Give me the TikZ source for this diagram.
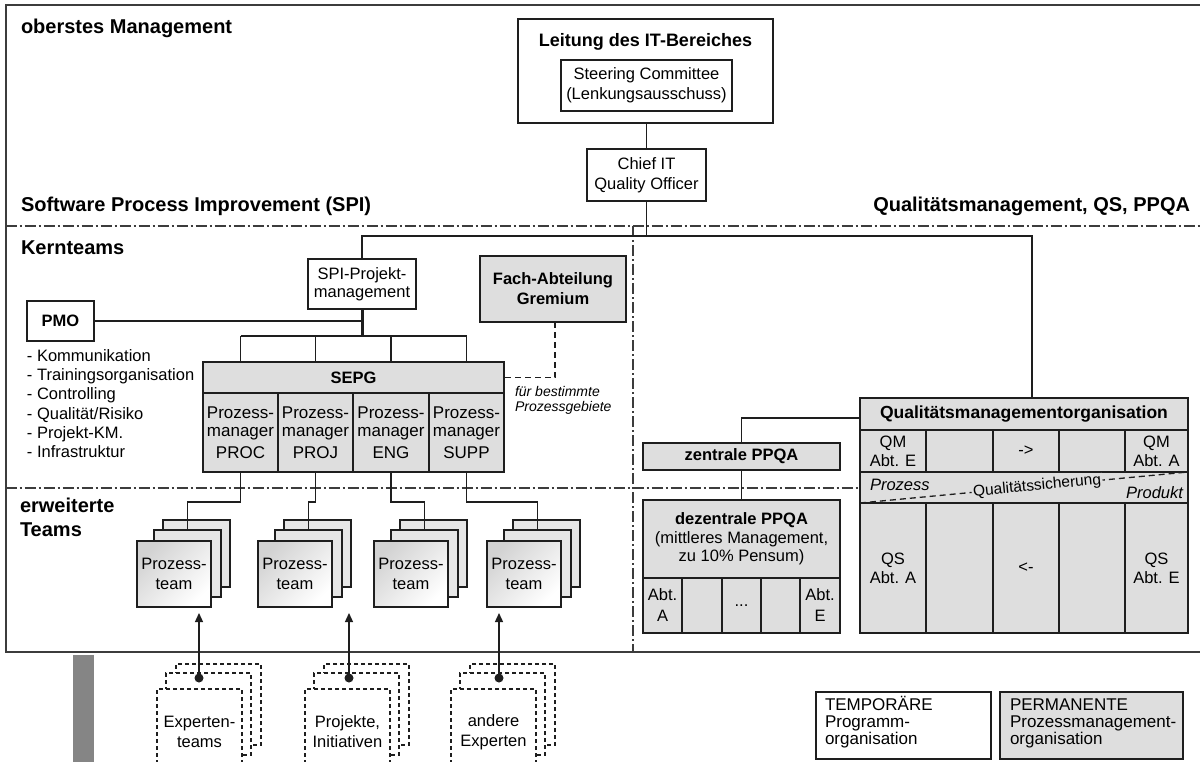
\documentclass[tikz,border=0pt]{standalone}
\usepackage{fontspec}
\setmainfont{Liberation Sans}
\usetikzlibrary{arrows.meta}
\definecolor{ink}{HTML}{1E1E1E}
\definecolor{boxgray}{HTML}{DEDEDE}
\definecolor{framecol}{HTML}{3C3C3C}
\definecolor{bargray}{HTML}{858585}
\definecolor{stackgray}{HTML}{E6E6E6}
\definecolor{shadegray}{HTML}{D2D2D2}
\begin{document}
\begin{tikzpicture}[x=1pt,y=-1pt,
  every node/.style={font=\fontsize{16.5}{18}\selectfont, inner sep=0pt, outer sep=0pt},
  box/.style={draw=ink, line width=1.3pt, fill=white, anchor=north west, align=center},
  graybox/.style={box, fill=boxgray},
  boldtxt/.style={font=\bfseries\fontsize{16.5}{19}\selectfont},
  conn/.style={draw=ink, line width=1.3pt},
  thickconn/.style={draw=ink, line width=3pt},
  dashconn/.style={draw=ink, line width=1.3pt, dash pattern=on 6pt off 4pt},
  zonesep/.style={draw=framecol, line width=1.3pt, dash pattern=on 11pt off 3pt on 2pt off 3pt},
  outerframe/.style={draw=framecol, line width=2pt},
  section/.style={font=\bfseries\fontsize{20}{24}\selectfont, anchor=base west},
  backbox/.style={box, fill=stackgray},
  frontbox/.style={box, top color=shadegray, bottom color=white, shading angle=45, font=\fontsize{16.5}{20}\selectfont},
  dashbox/.style={box, line width=1.2pt, dash pattern=on 4pt off 3pt},
  arrowconn/.style={conn, -{Triangle[length=9pt,width=8pt]}},
  italicnote/.style={font=\itshape\fontsize{14}{15}\selectfont, anchor=west, align=left},
  celltxt/.style={font=\fontsize{16.5}{19}\selectfont},
  mgrtxt/.style={font=\fontsize{17}{18}\selectfont},
]
\useasboundingbox (0,0) rectangle (1200,762);
\clip (0,0) rectangle (1200,762);

% zones
\draw[outerframe] (1210,5.5) -- (5.5,5.5) -- (5.5,652) -- (1210,652);
\fill[bargray] (73,655) rectangle (94,770);
\draw[zonesep] (5.5,226) -- (1210,226);
\draw[zonesep] (5.5,488) -- (860,488);
\draw[zonesep] (633,226) -- (633,652);

% zone labels
\node[section] (lblTop) at (21,34) {oberstes Management};
\node[section] (lblSpi) at (21,212) {Software Process Improvement (SPI)};
\node[section, anchor=base east] (lblQm) at (1190,212) {Qualitätsmanagement, QS, PPQA};
\node[section] (lblCore) at (21,255) {Kernteams};
\node[section, anchor=north west, align=left] (lblExt) at (20,498.5) {erweiterte\\Teams};

% top management
\node[box, minimum width=255pt, minimum height=104pt] (leitung) at (518,19) {};
\node[font=\bfseries\fontsize{18}{20}\selectfont] (leitungT) at (645.5,41.5) {Leitung des IT-Bereiches};
\node[box, minimum width=171pt, minimum height=51pt, font=\fontsize{16.5}{20}\selectfont] (steer) at (561,60) {Steering Committee\\(Lenkungsausschuss)};
\node[box, minimum width=119pt, minimum height=52pt, font=\fontsize{16.5}{20}\selectfont] (chief) at (587,149) {Chief IT\\Quality Officer};
\coordinate (hub) at (646.5,236);

% SPI core teams
\node[box, minimum width=108pt, minimum height=50pt] (spi) at (308,259) {SPI-Projekt-\\management};
\node[box, minimum width=67pt, minimum height=40pt, boldtxt] (pmo) at (27,301) {PMO};
\node[anchor=north west, align=left, font=\fontsize{16.5}{19.2}\selectfont] (pmolist) at (27,349.5) {- Kommunikation\\- Trainingsorganisation\\- Controlling\\- Qualität/Risiko\\- Projekt-KM.\\- Infrastruktur};
\node[graybox, minimum width=146pt, minimum height=66pt, font=\bfseries\fontsize{16.5}{20}\selectfont] (fach) at (480,256) {Fach-Abteilung\\Gremium};
\node[graybox, minimum width=301pt, minimum height=31pt, boldtxt] (sepg) at (203,362) {SEPG};
\node[graybox, mgrtxt, minimum width=75pt, minimum height=79pt] (c1) at (203,393) {Prozess-\\manager\\[4pt]PROC};
\node[graybox, mgrtxt, minimum width=75pt, minimum height=79pt] (c2) at (278,393) {Prozess-\\manager\\[4pt]PROJ};
\node[graybox, mgrtxt, minimum width=76pt, minimum height=79pt] (c3) at (353,393) {Prozess-\\manager\\[4pt]ENG};
\node[graybox, mgrtxt, minimum width=75pt, minimum height=79pt] (c4) at (429,393) {Prozess-\\manager\\[4pt]SUPP};
\node[italicnote] (note) at (515,400) {für bestimmte\\Prozessgebiete};

% process teams
\foreach \xf/\n in {137/1,258/2,374/3,487/4}{
  \node[backbox, minimum width=67pt, minimum height=67pt] (tb\n) at (\xf+26,520) {};
  \node[backbox, minimum width=67pt, minimum height=67pt] (tm\n) at (\xf+17,530) {};
  \node[frontbox, minimum width=74pt, minimum height=66pt] (tf\n) at (\xf,541) {Prozess-\\team};
}

% contributors below the frame
\foreach \xf/\n in {157/A,305/B,451/C}{
  \node[dashbox, minimum width=85pt, minimum height=81pt] (eb\n) at (\xf+19,664) {};
  \node[dashbox, minimum width=85pt, minimum height=82pt] (em\n) at (\xf+9,673) {};
  \node[dashbox, minimum width=85pt, minimum height=95pt] (ef\n) at (\xf,689) {};
}
\node[font=\fontsize{16.5}{20}\selectfont, align=center] (etA) at (199.5,732) {Experten-\\teams};
\node[font=\fontsize{16.5}{20}\selectfont, align=center] (etB) at (347.5,732) {Projekte,\\Initiativen};
\node[font=\fontsize{16.5}{20}\selectfont, align=center] (etC) at (493.5,732) {andere\\Experten};
\coordinate (dA) at (199,678);
\coordinate (dB) at (349,678);
\coordinate (dC) at (499,678);
\coordinate (tA) at (199,613);
\coordinate (tB) at (349,613);
\coordinate (tC) at (499,613);

% quality management
\node[graybox, minimum width=328pt, minimum height=32pt, font=\bfseries\fontsize{17.5}{19}\selectfont] (qmtitle) at (860,398) {Qualitätsmanagementorganisation};
\node[graybox, celltxt, minimum width=66pt, minimum height=42pt] (q1) at (860,430) {QM\\Abt. E};
\node[graybox, minimum width=67pt, minimum height=42pt] (q2) at (926,430) {};
\node[graybox, minimum width=66pt, minimum height=42pt] (q3) at (993,430) {->};
\node[graybox, minimum width=66pt, minimum height=42pt] (q4) at (1059,430) {};
\node[graybox, celltxt, minimum width=63pt, minimum height=42pt] (q5) at (1125,430) {QM\\Abt. A};
\node[graybox, minimum width=328pt, minimum height=31pt] (qmrow) at (860,472) {};
\node[graybox, celltxt, minimum width=66pt, minimum height=130pt] (s1) at (860,503) {QS\\Abt. A};
\node[graybox, minimum width=67pt, minimum height=130pt] (s2) at (926,503) {};
\node[graybox, minimum width=66pt, minimum height=130pt] (s3) at (993,503) {<-};
\node[graybox, minimum width=66pt, minimum height=130pt] (s4) at (1059,503) {};
\node[graybox, celltxt, minimum width=63pt, minimum height=130pt] (s5) at (1125,503) {QS\\Abt. E};
\node[font=\itshape\fontsize{16.5}{18}\selectfont, anchor=west] (proz) at (870,485) {Prozess};
\node[font=\itshape\fontsize{16.5}{18}\selectfont, anchor=east] (prod) at (1183,493) {Produkt};

\node[graybox, minimum width=197pt, minimum height=27pt, boldtxt] (zppqa) at (643,443) {zentrale PPQA};
\node[graybox, minimum width=197pt, minimum height=78pt, font=\fontsize{16.5}{18.5}\selectfont] (dppqa) at (643,500) {\textbf{dezentrale PPQA}\\(mittleres Management,\\zu 10\% Pensum)};
\node[graybox, font=\fontsize{16.5}{21}\selectfont, minimum width=39pt, minimum height=55pt] (d1) at (643,578) {Abt.\\A};
\node[graybox, minimum width=40pt, minimum height=55pt] (d2) at (682,578) {};
\node[graybox, minimum width=39pt, minimum height=55pt] (d3) at (722,578) {...};
\node[graybox, minimum width=39pt, minimum height=55pt] (d4) at (761,578) {};
\node[graybox, font=\fontsize{16.5}{21}\selectfont, minimum width=40pt, minimum height=55pt] (d5) at (800,578) {Abt.\\E};

% legend
\node[box, minimum width=175pt, minimum height=67pt] (legT) at (816,692) {};
\node[anchor=north west, align=left, font=\fontsize{17}{17}\selectfont] (legTt) at (825,696) {TEMPORÄRE\\Programm-\\organisation};
\node[graybox, minimum width=183pt, minimum height=67pt] (legP) at (1000,692) {};
\node[anchor=north west, align=left, font=\fontsize{17}{17}\selectfont] (legPt) at (1010,698.5) {PERMANENTE\\Prozessmanagement-\\organisation};

% connectors
\draw[conn] (chief.north |- leitung.south) -- (chief.north);
\draw[conn] (chief.south) -- (hub);
\draw[conn] (spi.north) |- (hub);
\draw[conn] (hub) -| ([xshift=8pt]qmtitle.north);
\coordinate (br) at (362,336);
\draw[thickconn] (spi.south) -- (spi.south |- br);
\draw[conn] (pmo.east) -- (spi.south |- pmo.east);
\draw[conn] (c1.north |- br) -- (c4.north |- br);
\foreach \c in {c1,c2,c3,c4} \draw[conn] (\c.north |- br) -- (\c.north |- sepg.north);
\draw[dashconn] ([xshift=2pt]fach.south) |- (sepg.east);
\foreach \n in {1,2,3,4} \draw[conn] (c\n.south) -- ++(0,30) -| (tm\n.north);
\foreach \n in {A,B,C}{
  \fill[ink] (d\n) circle (4.5pt);
  \draw[arrowconn] (d\n) -- (t\n);
}
\draw[conn] ([yshift=-4pt]qmtitle.west) -| (zppqa.north);
\draw[conn] (zppqa.south) -- (dppqa.north);
\draw[dashconn] (qmrow.south west) -- node[pos=0.54, sloped, fill=boxgray, inner xsep=1.5pt, font=\fontsize{15.5}{17}\selectfont] (qsi) {Qualitätssicherung} (qmrow.north east);
\end{tikzpicture}
\end{document}
